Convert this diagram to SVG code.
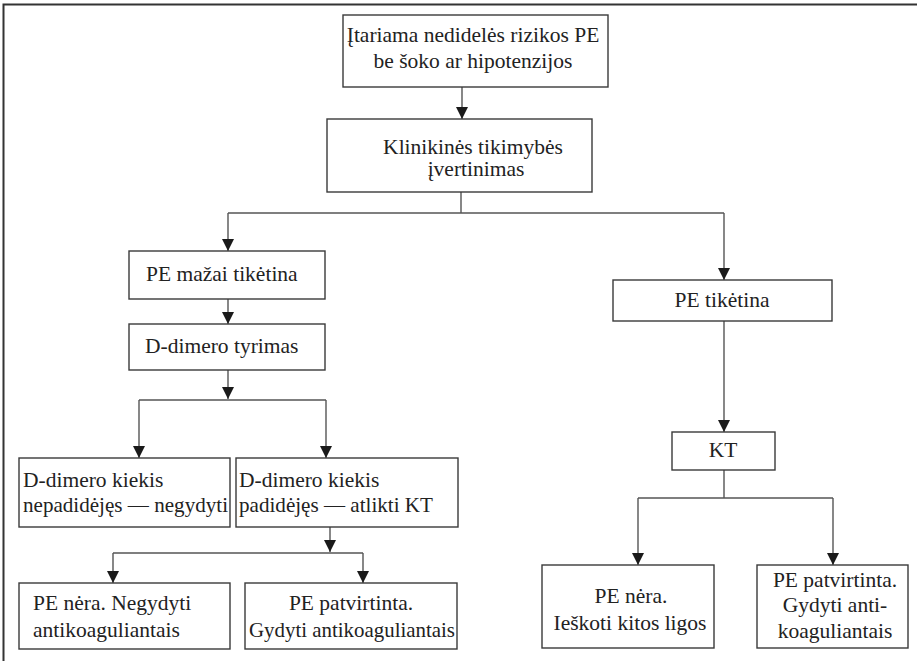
<svg xmlns="http://www.w3.org/2000/svg" width="917" height="661" viewBox="0 0 917 661">
  <style>
    .box { fill: #ffffff; stroke: #3a3a3a; stroke-width: 1.4; }
    .frame { fill: none; stroke: #333333; stroke-width: 2; }
    .conn { fill: none; stroke: #555555; stroke-width: 1.4; }
    text { font-family: "Liberation Serif", "Times New Roman", serif; font-size: 21.5px; fill: #222222; }
    .c { text-anchor: middle; }
  </style>
  <defs>
    <marker id="arrow" viewBox="0 0 12 13" refX="12" refY="6.5" markerWidth="12" markerHeight="13" markerUnits="userSpaceOnUse" orient="auto">
      <path d="M0,0.5 L12,6.5 L0,12.5 z" fill="#1a1a1a"/>
    </marker>
  </defs>
  <rect width="917" height="661" fill="#ffffff"/>

  <!-- outer frame: top and left edges -->
  <path class="frame" d="M3.5,661 L3.5,4.5 L917,4.5"/>

  <!-- connectors -->
  <g id="connectors">
    <path class="conn" d="M462,87 L462,119" marker-end="url(#arrow)"/>
    <path class="conn" d="M461,192 L461,213 M228,213 L724,213"/>
    <path class="conn" d="M228,213 L228,251" marker-end="url(#arrow)"/>
    <path class="conn" d="M724,213 L724,280" marker-end="url(#arrow)"/>
    <path class="conn" d="M228,299 L228,324" marker-end="url(#arrow)"/>
    <path class="conn" d="M228,370 L228,399" marker-end="url(#arrow)"/>
    <path class="conn" d="M139,400 L326,400"/>
    <path class="conn" d="M139,400 L139,458" marker-end="url(#arrow)"/>
    <path class="conn" d="M326,400 L326,458" marker-end="url(#arrow)"/>
    <path class="conn" d="M330,527 L330,552" marker-end="url(#arrow)"/>
    <path class="conn" d="M113,553 L363,553"/>
    <path class="conn" d="M113,553 L113,583" marker-end="url(#arrow)"/>
    <path class="conn" d="M363,553 L363,583" marker-end="url(#arrow)"/>
    <path class="conn" d="M724,321 L724,432" marker-end="url(#arrow)"/>
    <path class="conn" d="M724,470 L724,498 M638,498 L833,498"/>
    <path class="conn" d="M638,498 L638,565" marker-end="url(#arrow)"/>
    <path class="conn" d="M833,498 L833,565" marker-end="url(#arrow)"/>
  </g>

  <!-- nodes -->
  <g id="suspected">
    <rect class="box" x="343" y="15" width="265" height="72"/>
    <text class="c" x="473" y="42">Įtariama nedidelės rizikos PE</text>
    <text class="c" x="473" y="68">be šoko ar hipotenzijos</text>
  </g>
  <g id="assessment">
    <rect class="box" x="327" y="119" width="265" height="73"/>
    <text class="c" x="473" y="154">Klinikinės tikimybės</text>
    <text class="c" x="476" y="176">įvertinimas</text>
  </g>
  <g id="unlikely">
    <rect class="box" x="129" y="251" width="196" height="48"/>
    <text x="146" y="281">PE mažai tikėtina</text>
  </g>
  <g id="ddimer-test">
    <rect class="box" x="129" y="324" width="196" height="46"/>
    <text x="145" y="353">D-dimero tyrimas</text>
  </g>
  <g id="ddimer-normal">
    <rect class="box" x="19" y="458" width="211" height="69"/>
    <text x="23" y="487">D-dimero kiekis</text>
    <text x="23" y="512" textLength="205" lengthAdjust="spacingAndGlyphs">nepadidėjęs — negydyti</text>
  </g>
  <g id="ddimer-raised">
    <rect class="box" x="236" y="458" width="222" height="69"/>
    <text x="239" y="487">D-dimero kiekis</text>
    <text x="239" y="512" textLength="194" lengthAdjust="spacingAndGlyphs">padidėjęs — atlikti KT</text>
  </g>
  <g id="left-no-pe">
    <rect class="box" x="19" y="583" width="211" height="66"/>
    <text x="33" y="610">PE nėra. Negydyti</text>
    <text x="33" y="637">antikoaguliantais</text>
  </g>
  <g id="left-confirmed">
    <rect class="box" x="245" y="583" width="212" height="66"/>
    <text class="c" x="351" y="610">PE patvirtinta.</text>
    <text class="c" x="352" y="637" textLength="206" lengthAdjust="spacingAndGlyphs">Gydyti antikoaguliantais</text>
  </g>
  <g id="likely">
    <rect class="box" x="613" y="280" width="219" height="41"/>
    <text class="c" x="722" y="307">PE tikėtina</text>
  </g>
  <g id="ct">
    <rect class="box" x="672" y="432" width="103" height="38"/>
    <text class="c" x="723" y="457">KT</text>
  </g>
  <g id="right-no-pe">
    <rect class="box" x="542" y="565" width="172" height="83"/>
    <text class="c" x="631" y="603">PE nėra.</text>
    <text class="c" x="630" y="630">Ieškoti kitos ligos</text>
  </g>
  <g id="right-confirmed">
    <rect class="box" x="757" y="565" width="151" height="83"/>
    <text class="c" x="835" y="587">PE patvirtinta.</text>
    <text class="c" x="835" y="612">Gydyti anti-</text>
    <text class="c" x="835" y="638">koaguliantais</text>
  </g>
</svg>
